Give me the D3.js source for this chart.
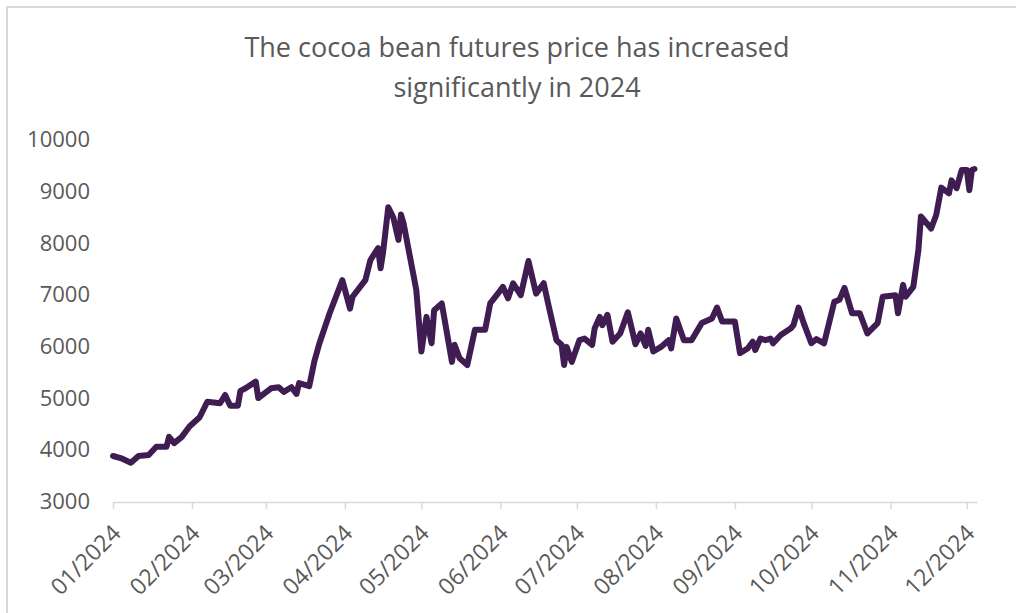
<!DOCTYPE html>
<html><head><meta charset="utf-8">
<script src="https://cdn.jsdelivr.net/npm/d3@7"></script>
<style>body{margin:0;background:#fff;overflow:hidden}</style>
</head><body><svg id="c" width="1016" height="613"></svg>
<script>
const titleLines = ["The cocoa bean futures price has increased", "significantly in 2024"];
const yTicks = [3000, 4000, 5000, 6000, 7000, 8000, 9000, 10000];
const xTickDates = ["2024-01-01","2024-02-01","2024-03-01","2024-04-01","2024-05-01","2024-06-01","2024-07-01","2024-08-01","2024-09-01","2024-10-01","2024-11-01","2024-12-01"];
const xTickLabels = ["01/2024","02/2024","03/2024","04/2024","05/2024","06/2024","07/2024","08/2024","09/2024","10/2024","11/2024","12/2024"];
const dates = ["2024-01-01","2024-01-04","2024-01-08","2024-01-11","2024-01-15","2024-01-18","2024-01-22","2024-01-23","2024-01-25","2024-01-28","2024-01-31",
"2024-02-04","2024-02-07","2024-02-12","2024-02-14","2024-02-16","2024-02-19","2024-02-20","2024-02-22","2024-02-26","2024-02-27",
"2024-03-03","2024-03-06","2024-03-08","2024-03-11","2024-03-13","2024-03-14","2024-03-18","2024-03-20","2024-03-22","2024-03-26","2024-03-31",
"2024-04-03","2024-04-04","2024-04-09","2024-04-11","2024-04-14","2024-04-15","2024-04-16","2024-04-18","2024-04-20","2024-04-22","2024-04-23","2024-04-24","2024-04-28","2024-04-29",
"2024-05-01","2024-05-03","2024-05-05","2024-05-06","2024-05-09","2024-05-13","2024-05-14","2024-05-16","2024-05-19","2024-05-22","2024-05-26","2024-05-28","2024-05-31",
"2024-06-02","2024-06-04","2024-06-06","2024-06-09","2024-06-12","2024-06-15","2024-06-18","2024-06-20","2024-06-23","2024-06-25","2024-06-26","2024-06-27","2024-06-29",
"2024-07-02","2024-07-04","2024-07-07","2024-07-08","2024-07-10","2024-07-11","2024-07-13","2024-07-15","2024-07-18","2024-07-21","2024-07-24","2024-07-26","2024-07-28","2024-07-29","2024-07-31",
"2024-08-03","2024-08-06","2024-08-07","2024-08-09","2024-08-12","2024-08-15","2024-08-19","2024-08-23","2024-08-25","2024-08-27",
"2024-09-01","2024-09-03","2024-09-06","2024-09-08","2024-09-09","2024-09-11","2024-09-13","2024-09-15","2024-09-16","2024-09-19","2024-09-23","2024-09-24","2024-09-26","2024-09-28",
"2024-10-01","2024-10-03","2024-10-06","2024-10-10","2024-10-12","2024-10-14","2024-10-17","2024-10-20","2024-10-23","2024-10-27","2024-10-29",
"2024-11-03","2024-11-04","2024-11-06","2024-11-07","2024-11-10","2024-11-12","2024-11-13","2024-11-17","2024-11-19","2024-11-21","2024-11-24","2024-11-25","2024-11-27","2024-11-29",
"2024-12-01","2024-12-02","2024-12-03","2024-12-04"];
const prices = [3870,3830,3740,3870,3890,4050,4050,4240,4120,4240,4440,
4620,4920,4890,5050,4840,4840,5130,5180,5310,4990,
5180,5200,5110,5200,5070,5280,5220,5700,6050,6630,7270,
6720,6950,7270,7660,7890,7500,7820,8680,8480,8050,8540,8370,7340,7080,
5890,6560,6050,6690,6820,5690,6020,5760,5630,6310,6310,6820,7010,
7140,6920,7210,6980,7640,7010,7210,6760,6110,6020,5630,5980,5690,
6110,6140,6020,6340,6560,6400,6600,6080,6240,6650,6030,6240,6000,6310,5890,
5980,6110,5950,6530,6110,6110,6440,6530,6740,6470,
6470,5860,5950,6080,5920,6140,6110,6140,6050,6210,6340,6400,6740,6440,
6050,6130,6050,6850,6890,7120,6630,6630,6240,6440,6950,
6980,6630,7180,6950,7140,7850,8500,8270,8530,9060,8950,9200,9050,9400,
9400,9010,9400,9420];

const W = 1016, H = 613;
const svg = d3.select("#c");
const parse = d3.utcParse("%Y-%m-%d");
const series = dates.map((d, i) => ({date: parse(d), value: prices[i]}));

// outer frame
svg.append("rect").attr("x", 7).attr("y", 7).attr("width", W + 20).attr("height", H + 20)
  .attr("fill", "#fff").attr("stroke", "#d9d9d9").attr("stroke-width", 2);

const x = d3.scaleUtc().domain([parse("2024-01-01"), parse("2024-12-05")]).range([113, 977]);
const y = d3.scaleLinear().domain([3000, 10000]).range([501, 139]);

// title
const title = svg.append("text").attr("text-anchor", "middle")
  .attr("font-family", "'Open Sans', sans-serif").attr("font-size", 27).attr("fill", "#595959");
titleLines.forEach((t, i) => title.append("tspan").attr("x", 517).attr("y", 57 + i * 40).text(t));

// y axis labels
const yAxis = svg.append("g").attr("transform", "translate(90,0)")
  .call(d3.axisLeft(y).tickValues(yTicks).tickSize(0).tickPadding(0).tickFormat(d3.format("d")));
yAxis.select(".domain").remove();
yAxis.selectAll("text").attr("font-family", "'Open Sans', sans-serif").attr("font-size", 22)
  .attr("fill", "#595959").attr("dy", "0.35em");

// x axis
const xAxis = svg.append("g").attr("transform", "translate(0,502)")
  .call(d3.axisBottom(x).tickValues(xTickDates.map(parse)).tickSize(7).tickSizeOuter(0)
    .tickFormat((d, i) => xTickLabels[i]));
xAxis.select(".domain").attr("stroke", "#d9d9d9").attr("stroke-width", 1.5);
xAxis.selectAll(".tick line").attr("stroke", "#d9d9d9").attr("stroke-width", 1.5);
xAxis.selectAll("text").attr("font-family", "'Open Sans', sans-serif").attr("font-size", 23)
  .attr("fill", "#595959").attr("text-anchor", "end")
  .attr("transform", "translate(3,27) rotate(-45)").attr("x", 0).attr("y", 0).attr("dy", "0.35em");

// line
const line = d3.line().x(d => x(d.date)).y(d => y(d.value));
svg.append("path").datum(series).attr("d", line).attr("fill", "none")
  .attr("stroke", "#3f1d52").attr("stroke-width", 6).attr("stroke-linejoin", "round").attr("stroke-linecap", "round");
</script>
</body></html>
